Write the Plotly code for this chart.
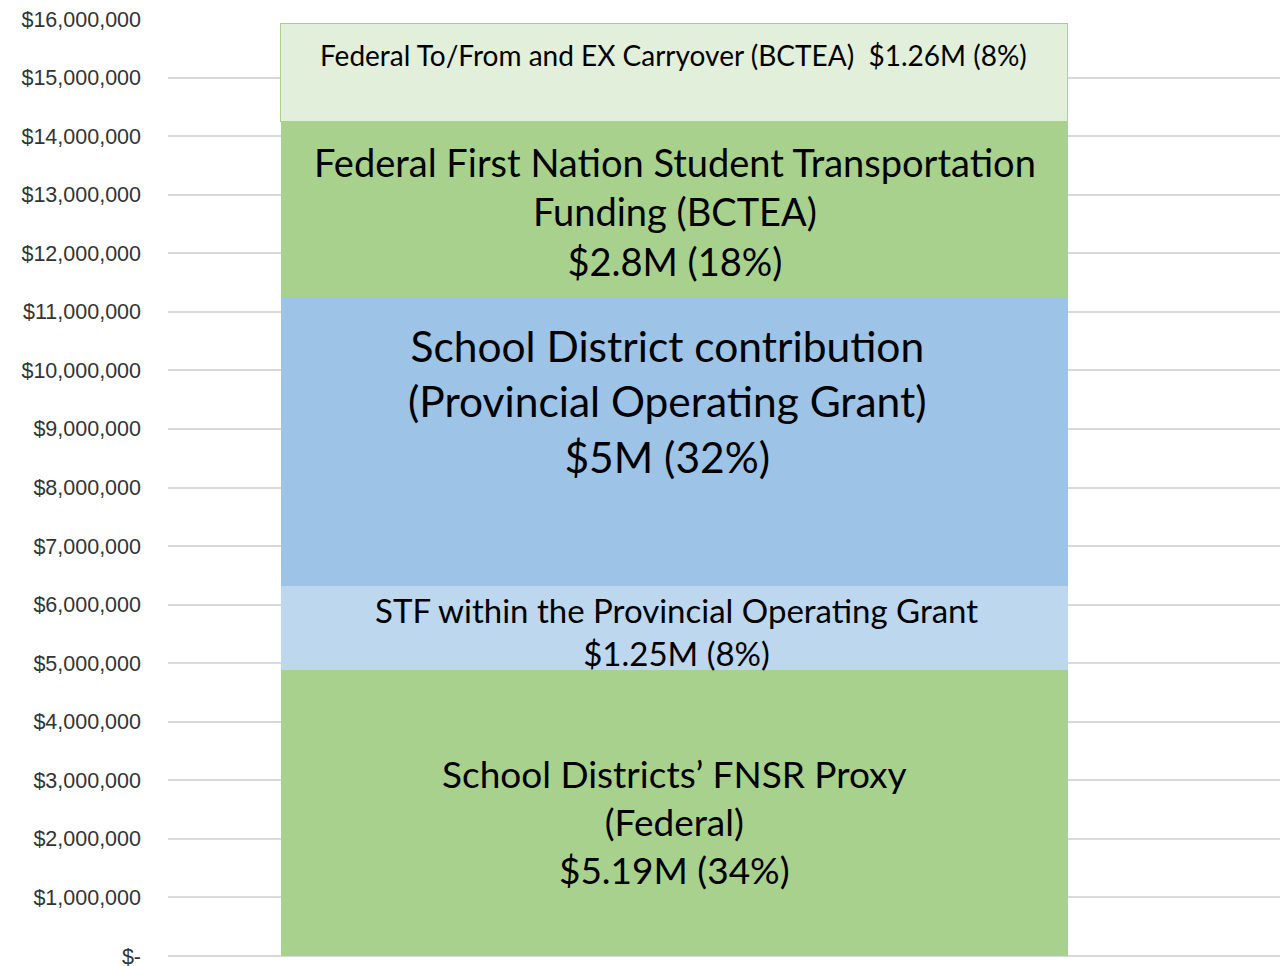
import plotly.graph_objects as go

# ---- data ----
segments = [
    "School Districts’ FNSR Proxy",
    "STF within the Provincial Operating Grant",
    "School District contribution",
    "Federal First Nation Student Transportation Funding",
    "Federal To/From and EX Carryover",
]
amounts = [4_890_000, 1_425_000, 4_935_000, 2_995_000, 1_670_000]
labels = [
    "School Districts’ FNSR Proxy<br>(Federal)<br>$5.19M (34%)",
    "STF within the Provincial Operating Grant<br>$1.25M (8%)",
    "School District contribution<br>(Provincial Operating Grant)<br>$5M (32%)",
    "Federal First Nation Student Transportation<br>Funding (BCTEA)<br>$2.8M (18%)",
    "Federal To/From and EX Carryover (BCTEA)  $1.26M (8%)",
]
tick_values = [i * 1_000_000 for i in range(17)]
tick_labels = ["$-"] + [f"${v:,.0f}" for v in tick_values[1:]]

# ---- styles ----
fills = ["#A9D18E", "#BDD7EE", "#9DC3E6", "#A9D18E", "#E2EFDA"]
outline = [0, 0, 0, 0, 1.5]
label_frac = [0.47, 0.46, 0.64, 0.49, 0.68]
label_size = [37, 33, 42.5, 38, 28]
label_xshift = [0, 2, -7, 0, -1]

FONT = "Lato"

fig = go.Figure()
for name, val, col, lw in zip(segments, amounts, fills, outline):
    fig.add_trace(go.Bar(
        x=[0], y=[val], width=[1], name=name,
        marker=dict(color=col, line=dict(color="#A9D18E", width=lw)),
        hoverinfo="name+y",
    ))

base = 0
for val, txt, fr, sz, xs in zip(amounts, labels, label_frac, label_size, label_xshift):
    fig.add_annotation(
        x=0, y=base + fr * val, xref="x", yref="y", text=txt,
        showarrow=False, align="center", xshift=xs,
        font=dict(family=FONT, size=sz, color="#000000"),
    )
    base += val

fig.update_layout(
    width=1286, height=980,
    barmode="stack", bargap=0,
    showlegend=False,
    paper_bgcolor="white", plot_bgcolor="white",
    margin=dict(l=168, r=6, t=19, b=24, autoexpand=False),
    xaxis=dict(range=[-0.6436, 0.7694], showticklabels=False, showgrid=False,
               zeroline=False, showline=False, fixedrange=True, automargin=False),
    yaxis=dict(range=[0, 16_000_000], tickvals=tick_values, ticktext=tick_labels,
               showgrid=True, gridcolor="#d9d9d9", gridwidth=1.5,
               zeroline=True, zerolinecolor="#d9d9d9", zerolinewidth=1.5,
               showline=False, ticklabelstandoff=26, automargin=False,
               tickfont=dict(family="Liberation Sans", size=21.5, color="#333333")),
)

fig.write_html(
    "out.html",
    config={"displayModeBar": False},
    post_script="document.body.style.margin='0';document.body.style.overflow='hidden';",
)
